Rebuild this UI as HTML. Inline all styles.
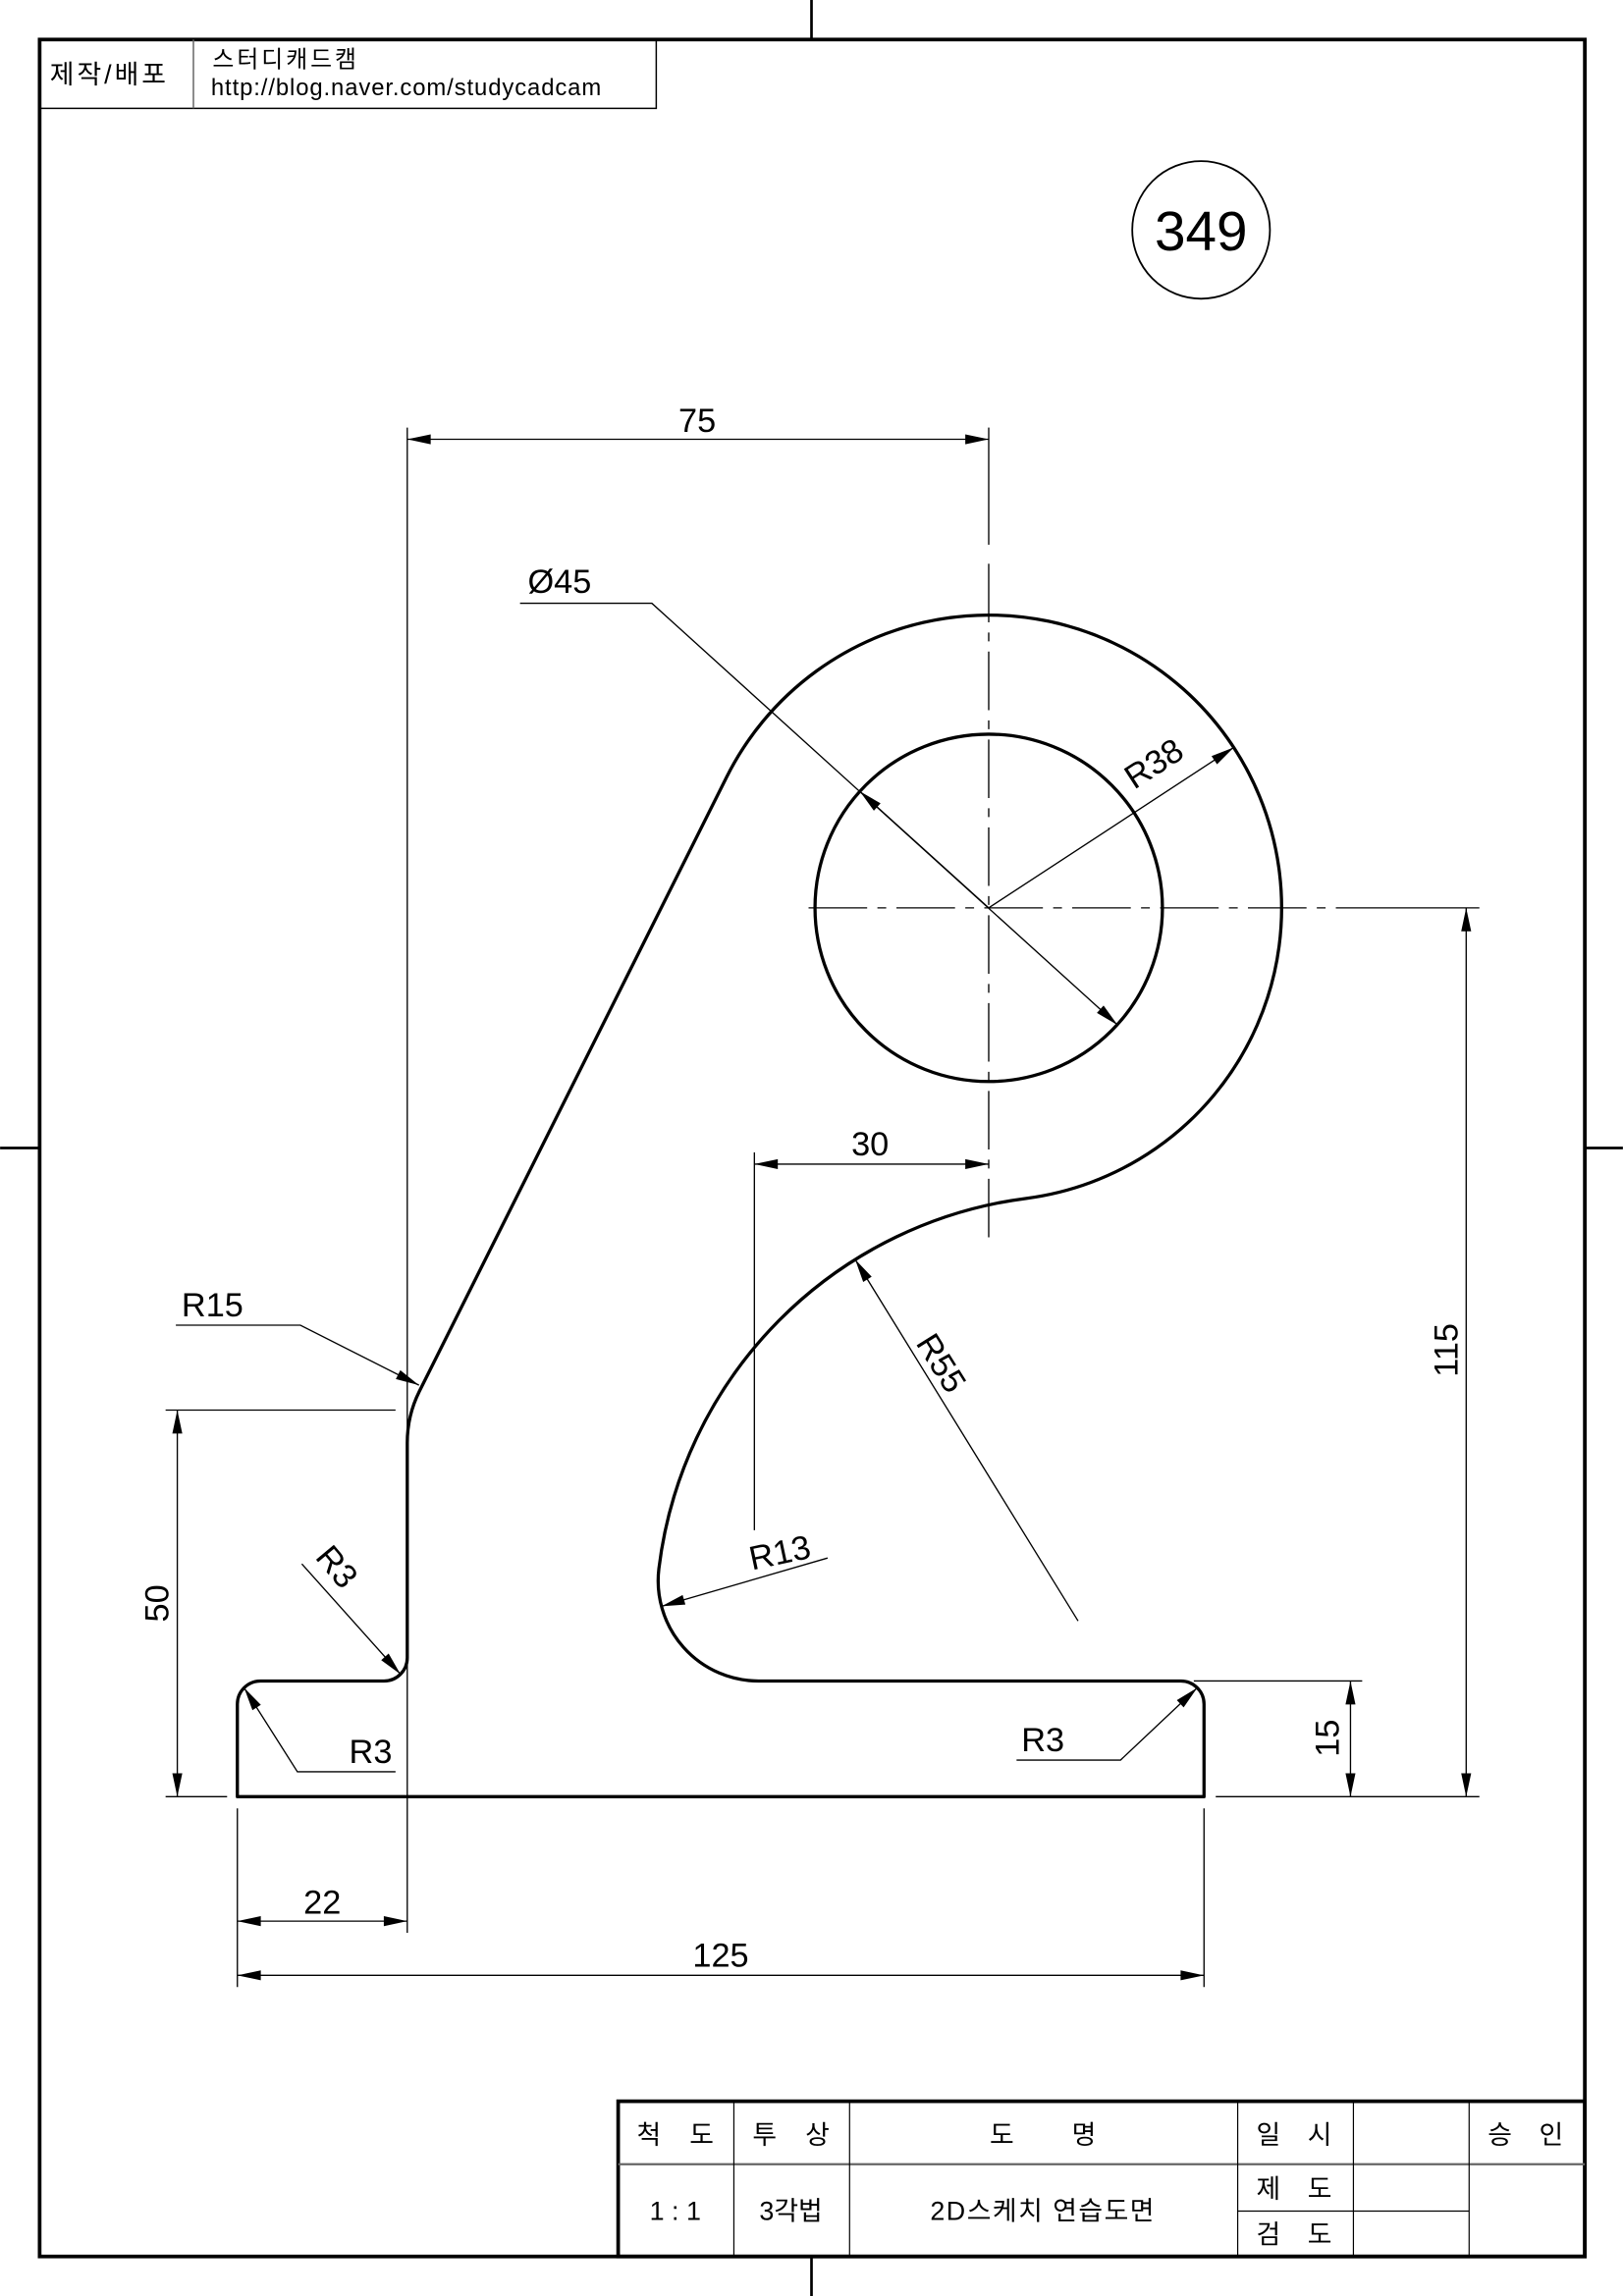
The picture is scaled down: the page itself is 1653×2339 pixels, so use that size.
<!DOCTYPE html>
<html><head><meta charset="utf-8">
<style>
html,body{margin:0;padding:0;background:#fff;}
svg{display:block;}
text{font-family:"Liberation Sans","Noto Sans CJK KR",sans-serif;fill:#000;}
</style></head>
<body>
<svg width="1653" height="2339" viewBox="0 0 1108 1568" xmlns="http://www.w3.org/2000/svg">
<defs>
<marker id="a" markerUnits="userSpaceOnUse" markerWidth="20" markerHeight="10" refX="0" refY="0" viewBox="-18 -5 20 10" orient="auto-start-reverse">
<path d="M0,0 L-16,-3.4 L-16,3.4 Z" fill="#000"/>
</marker>
</defs>
<!-- frame -->
<rect x="27" y="27" width="1055" height="1514" fill="none" stroke="#000" stroke-width="2.5"/>
<g stroke="#000" stroke-width="1.8">
<line x1="554" y1="0" x2="554" y2="27"/><line x1="554" y1="1541" x2="554" y2="1568"/>
<line x1="0" y1="784" x2="27" y2="784"/><line x1="1082" y1="784" x2="1108" y2="784"/>
</g>
<!-- header -->
<g stroke="#000" stroke-width="1" fill="none">
<rect x="27" y="27" width="421" height="47"/>
<line x1="132" y1="27" x2="132" y2="74" stroke="#666"/>
</g>
<text x="34" y="57" font-size="18" letter-spacing="2">제작/배포</text>
<text x="145" y="46" font-size="16" letter-spacing="2">스터디캐드캠</text>
<text x="144" y="65" font-size="16" letter-spacing="0.6">http://blog.naver.com/studycadcam</text>
<!-- title block -->
<g stroke="#000" fill="none">
<rect x="422" y="1435" width="660" height="106" stroke-width="2.5"/>
<line x1="422" y1="1478" x2="1082" y2="1478" stroke="#666" stroke-width="1.5"/>
<g stroke-width="0.8">
<line x1="501" y1="1435" x2="501" y2="1541"/><line x1="580" y1="1435" x2="580" y2="1541"/>
<line x1="845" y1="1435" x2="845" y2="1541"/><line x1="924" y1="1435" x2="924" y2="1541"/>
<line x1="1003" y1="1435" x2="1003" y2="1541"/><line x1="845" y1="1510" x2="1003" y2="1510"/>
</g>
</g>
<g font-size="18" text-anchor="middle">
<text x="443" y="1464">척</text><text x="479" y="1464">도</text>
<text x="522" y="1464">투</text><text x="558" y="1464">상</text>
<text x="684" y="1464">도</text><text x="740" y="1464">명</text>
<text x="866" y="1464">일</text><text x="901" y="1464">시</text>
<text x="1024" y="1464">승</text><text x="1059" y="1464">인</text>
<text x="461" y="1516">1 : 1</text>
<text x="540" y="1516">3각법</text>
<text x="712" y="1516" letter-spacing="1">2D스케치 연습도면</text>
<text x="866" y="1501">제</text><text x="901" y="1501">도</text>
<text x="866" y="1532">검</text><text x="901" y="1532">도</text>
</g>
<!-- number circle -->
<circle cx="820" cy="157" r="47" fill="none" stroke="#000" stroke-width="1.2"/>
<text x="820" y="171" font-size="38" text-anchor="middle">349</text>
<!-- part outline -->
<path d="M806.2 1148 L517.8 1148 A68.5 68.5 0 0 1 449.8 1071.3 A290 290 0 0 1 700.6 818.4 A200 200 0 1 0 496.1 530.6 L286.3 950.1 A79 79 0 0 0 278 985.4 L278 1132.2 A15.8 15.8 0 0 1 262.2 1148 L177.8 1148 A15.8 15.8 0 0 0 162 1163.8 L162 1227 L822 1227 L822 1163.8 A15.8 15.8 0 0 0 806.2 1148 Z" fill="none" stroke="#000" stroke-width="2.2" stroke-linejoin="round"/>
<circle cx="675" cy="620" r="118.6" fill="none" stroke="#000" stroke-width="2.2"/>
<!-- centerlines -->
<g stroke="#000" stroke-width="0.9" fill="none">
<line x1="552" y1="620" x2="905" y2="620" stroke-dasharray="40 7 6 7"/>
<line x1="912" y1="620" x2="1010" y2="620"/>
<line x1="675" y1="292" x2="675" y2="372"/>
<line x1="675" y1="385" x2="675" y2="850" stroke-dasharray="40 7 6 7"/>
<!-- extension lines -->
<line x1="278" y1="292" x2="278" y2="1320"/>
<line x1="515" y1="787" x2="515" y2="1045"/>
<line x1="113" y1="963" x2="270" y2="963"/>
<line x1="113" y1="1227" x2="155" y2="1227"/>
<line x1="815" y1="1148" x2="930" y2="1148"/>
<line x1="830" y1="1227" x2="1010" y2="1227"/>
<line x1="162" y1="1235" x2="162" y2="1357"/>
<line x1="822" y1="1235" x2="822" y2="1357"/>
</g>
<!-- dimension lines -->
<g stroke="#000" stroke-width="0.9" fill="none" marker-start="url(#a)" marker-end="url(#a)">
<line x1="278" y1="300" x2="675" y2="300"/>
<line x1="515" y1="795" x2="675" y2="795"/>
<line x1="121" y1="963" x2="121" y2="1227"/>
<line x1="922" y1="1148" x2="922" y2="1227"/>
<line x1="1001" y1="620" x2="1001" y2="1227"/>
<line x1="162" y1="1312" x2="278" y2="1312"/>
<line x1="162" y1="1349" x2="822" y2="1349"/>
</g>
<!-- leaders -->
<g stroke="#000" stroke-width="0.9" fill="none">
<polyline points="355,412 445,412 763,700" marker-end="url(#a)"/>
<line x1="675" y1="620" x2="587" y2="540.4" marker-end="url(#a)"/>
<line x1="675" y1="620" x2="842.4" y2="510.4" marker-end="url(#a)"/>
<line x1="736" y1="1107" x2="583.8" y2="860.1" marker-end="url(#a)"/>
<line x1="565" y1="1064" x2="451.6" y2="1097" marker-end="url(#a)"/>
<polyline points="120,905 205,905 286,946" marker-end="url(#a)"/>
<line x1="206" y1="1068" x2="273.4" y2="1143.4" marker-end="url(#a)"/>
<polyline points="270,1210 203,1210 166.6,1152.6" marker-end="url(#a)"/>
<polyline points="694,1202 765,1202 817.4,1152.6" marker-end="url(#a)"/>
</g>
<!-- dimension texts -->
<g font-size="23" text-anchor="middle">
<text x="476" y="295">75</text>
<text x="382" y="405">Ø45</text>
<text x="594" y="789">30</text>
<text x="145" y="899">R15</text>
<text x="253" y="1204">R3</text>
<text x="712" y="1196">R3</text>
<text x="220" y="1307">22</text>
<text x="492" y="1343">125</text>
<text transform="translate(792,528) rotate(-33)">R38</text>
<text transform="translate(636,935) rotate(58)">R55</text>
<text transform="translate(534,1068) rotate(-12)">R13</text>
<text transform="translate(224,1075) rotate(50)">R3</text>
<text transform="translate(115,1095) rotate(-90)">50</text>
<text transform="translate(914,1187) rotate(-90)">15</text>
<text transform="translate(995,922) rotate(-90)">115</text>
</g>
</svg>
</body></html>
